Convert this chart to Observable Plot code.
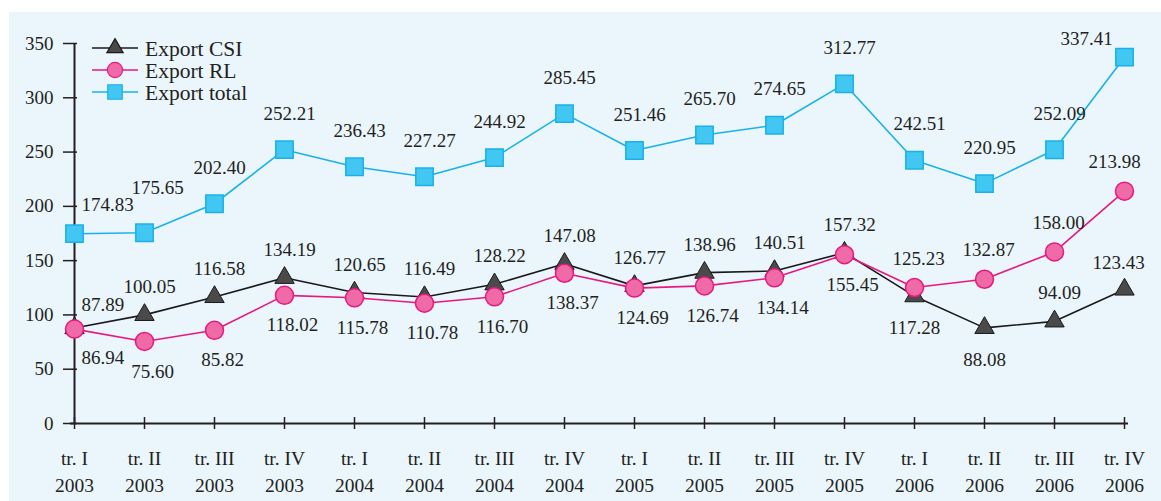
<!DOCTYPE html>
<html>
<head>
<meta charset="utf-8">
<script src="https://cdn.jsdelivr.net/npm/d3@7"></script>
<script src="https://cdn.jsdelivr.net/npm/@observablehq/plot@0.6"></script>
<style>
  html, body { margin: 0; padding: 0; background: #ffffff; }
  #wrap { position: relative; width: 1161px; height: 501px; overflow: hidden; }
  #bg { position: absolute; left: 9px; top: 12px; right: 0; bottom: 0; background: #eaf5fc; }
  #chart { position: absolute; left: 0; top: 0; }
  #legend { position: absolute; left: 0; top: 0; }
</style>
</head>
<body>
<div id="wrap">
  <div id="bg"></div>
  <div id="chart"></div>
  <svg id="legend" width="320" height="110"></svg>
</div>
<script>
const periods = [
  "tr. I\n2003", "tr. II\n2003", "tr. III\n2003", "tr. IV\n2003",
  "tr. I\n2004", "tr. II\n2004", "tr. III\n2004", "tr. IV\n2004",
  "tr. I\n2005", "tr. II\n2005", "tr. III\n2005", "tr. IV\n2005",
  "tr. I\n2006", "tr. II\n2006", "tr. III\n2006", "tr. IV\n2006"
];
const exportCSI = [87.89, 100.05, 116.58, 134.19, 120.65, 116.49, 128.22, 147.08, 126.77, 138.96, 140.51, 157.32, 117.28, 88.08, 94.09, 123.43];
const exportRL = [86.94, 75.60, 85.82, 118.02, 115.78, 110.78, 116.70, 138.37, 124.69, 126.74, 134.14, 155.45, 125.23, 132.87, 158.00, 213.98];
const exportTotal = [174.83, 175.65, 202.40, 252.21, 236.43, 227.27, 244.92, 285.45, 251.46, 265.70, 274.65, 312.77, 242.51, 220.95, 252.09, 337.41];
const yTicks = [0, 50, 100, 150, 200, 250, 300, 350];
const seriesNames = ["Export CSI", "Export RL", "Export total"];

const FONT = "'Liberation Serif', 'Times New Roman', serif";
const C = {
  text: "#231f20",
  csiLine: "#1a1a1a", csiFill: "#4a4a4a", csiStroke: "#1a1a1a",
  rlLine: "#e6197f", rlFill: "#f06aa8", rlStroke: "#e6197f",
  totLine: "#18b2e8", totFill: "#42c6f2", totStroke: "#18b2e8"
};

const rows = periods.map((p, i) => ({ period: p, i, csi: exportCSI[i], rl: exportRL[i], total: exportTotal[i] }));
const last = periods.length - 1;

// label placement rules (computed from the data, not stored in it)
function placeCSI(d) {
  if (d.i === 0) return { dx: 7, dy: -23, a: "start" };
  const below = d.rl > d.csi && d.rl - d.csi < 50;
  if (d.i === last) return { dx: -6, dy: -27, a: "middle" };
  return below ? { dx: 0, dy: 32, a: "middle" } : { dx: 5, dy: -28, a: "middle" };
}
function placeRL(d) {
  if (d.i === 0) return { dx: 7, dy: 29, a: "start" };
  if (d.i === last) return { dx: -10, dy: -29, a: "middle" };
  return d.csi > d.rl ? { dx: 8, dy: 30, a: "middle" } : { dx: 4, dy: -29, a: "middle" };
}
function placeTotal(d) {
  if (d.i === 0) return { dx: 7, dy: -29, a: "start" };
  if (d.i === last) return { dx: -38, dy: -18, a: "middle" };
  // lift labels that would collide with the neighbouring label on a flat stretch
  const prev = rows[d.i - 1];
  if (Math.abs(d.total - prev.total) < 5) return { dx: 13, dy: -45, a: "middle" };
  return { dx: 5, dy: -36, a: "middle" };
}

function labelMarks(key, place) {
  const groups = d3.group(rows, d => JSON.stringify(place(d)));
  return Array.from(groups, ([k, data]) => {
    const p = JSON.parse(k);
    return Plot.text(data, {
      x: "period", y: key, text: d => d[key].toFixed(2),
      dx: p.dx, dy: p.dy, textAnchor: p.a,
      fill: C.text, fontSize: 19
    });
  });
}

const chart = Plot.plot({
  width: 1161, height: 501,
  marginLeft: 70, marginRight: 33, marginTop: 43, marginBottom: 78,
  x: { type: "point", domain: periods, padding: 0 },
  y: { domain: [0, 350] },
  style: { background: "transparent", fontFamily: FONT, fontSize: "19px", color: C.text },
  marks: [
    Plot.axisY({ ticks: yTicks, tickSize: 14, dx: 7, tickPadding: 10, label: null, fontSize: 19, stroke: C.text, strokeWidth: 1.5, fill: C.text }),
    Plot.axisX({ tickSize: 12, dy: -6, tickPadding: 17, lineHeight: 1.37, label: null, fontSize: 19.5, stroke: C.text, strokeWidth: 1.5, fill: C.text }),
    Plot.ruleY([0], { stroke: C.text, strokeWidth: 2 }),
    Plot.ruleX([periods[0]], { stroke: C.text, strokeWidth: 2 }),

    Plot.line(rows, { x: "period", y: "csi", stroke: C.csiLine, strokeWidth: 1.6 }),
    Plot.dot(rows, { x: "period", y: "csi", symbol: "triangle", r: 7.2, fill: C.csiFill, stroke: C.csiStroke, strokeWidth: 1 }),
    Plot.line(rows, { x: "period", y: "rl", stroke: C.rlLine, strokeWidth: 1.6 }),
    Plot.dot(rows, { x: "period", y: "rl", symbol: "circle", r: 9, fill: C.rlFill, stroke: C.rlStroke, strokeWidth: 1.5 }),
    Plot.line(rows, { x: "period", y: "total", stroke: C.totLine, strokeWidth: 1.6 }),
    Plot.dot(rows, { x: "period", y: "total", symbol: "square", r: 9.8, fill: C.totFill, stroke: C.totStroke, strokeWidth: 1.5 }),

    ...labelMarks("csi", placeCSI),
    ...labelMarks("rl", placeRL),
    ...labelMarks("total", placeTotal)
  ]
});
document.getElementById("chart").appendChild(chart);

// legend
const lg = d3.select("#legend");
const items = [
  { name: seriesNames[0], line: C.csiLine, sym: d3.symbolTriangle, size: 115, fill: C.csiFill, stroke: C.csiStroke },
  { name: seriesNames[1], line: C.rlLine, sym: d3.symbolCircle, size: 180, fill: C.rlFill, stroke: C.rlStroke },
  { name: seriesNames[2], line: C.totLine, sym: d3.symbolSquare, size: 210, fill: C.totFill, stroke: C.totStroke }
];
items.forEach((it, k) => {
  const cy = 48 + k * 22;
  const g = lg.append("g");
  g.append("line").attr("x1", 92).attr("x2", 138).attr("y1", cy).attr("y2", cy).attr("stroke", it.line).attr("stroke-width", 1.6);
  g.append("path").attr("d", d3.symbol(it.sym, it.size)()).attr("transform", `translate(115,${cy})`)
    .attr("fill", it.fill).attr("stroke", it.stroke).attr("stroke-width", 1.2);
  g.append("text").attr("x", 145).attr("y", cy).attr("dy", "0.35em")
    .attr("font-family", FONT).attr("font-size", 21.5)
    .attr("fill", C.text).text(it.name);
});
</script>
</body>
</html>
